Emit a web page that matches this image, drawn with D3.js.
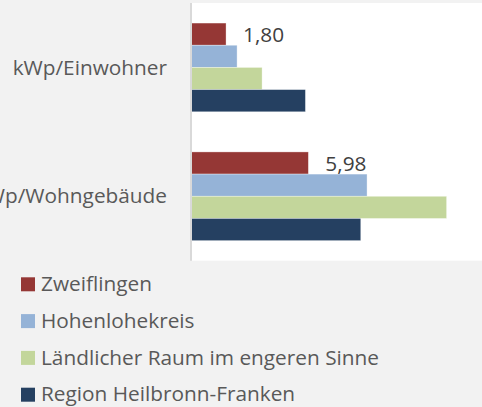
<!DOCTYPE html>
<html>
<head>
<meta charset="utf-8">
<script src="https://cdn.jsdelivr.net/npm/d3@7/dist/d3.min.js"></script>
<style>
  html, body { margin: 0; padding: 0; background: #f2f2f2; }
  svg { display: block; font-family: "Open Sans", sans-serif; }
</style>
</head>
<body>
<svg id="chart" width="482" height="407"></svg>
<script>
// Installed PV capacity, compared across four areas
const categories = ["kWp/Einwohner", "kWp/Wohngebäude"];
const seriesNames = ["Zweiflingen", "Hohenlohekreis", "Ländlicher Raum im engeren Sinne", "Region Heilbronn-Franken"];
const seriesColors = ["#953735", "#95b3d7", "#c3d69b", "#254061"];
const zweiflingen = [1.80, 5.98];
const hohenlohekreis = [2.36, 8.96];
const laendlicherRaum = [3.63, 13.00];
const heilbronnFranken = [5.83, 8.64];
const seriesValues = [zweiflingen, hohenlohekreis, laendlicherRaum, heilbronnFranken];
// only the first series carries value labels
const labelledSeries = [0];

const svg = d3.select("#chart");
const W = 482;
const FONT = 20.8;
const plot = { left: 190.6, top: 3, bottom: 260.7, right: 486 };

// white plot area
svg.append("rect")
  .attr("x", 192).attr("y", plot.top)
  .attr("width", W - 192).attr("height", plot.bottom - plot.top)
  .attr("fill", "#ffffff");

const x = d3.scaleLinear().domain([0, 15]).range([plot.left, plot.right]);
const y0 = d3.scaleBand().domain(categories)
  .range([plot.top, plot.bottom])
  .paddingInner(0.3115).paddingOuter(0.1557);
const y1 = d3.scaleBand().domain(d3.range(seriesNames.length))
  .range([0, y0.bandwidth()]);

const rows = [];
categories.forEach((c, ci) => {
  seriesValues.forEach((vals, si) => rows.push({ cat: c, s: si, v: vals[ci] }));
});

svg.append("g").selectAll("rect").data(rows).join("rect")
  .attr("x", x(0))
  .attr("y", d => y0(d.cat) + y1(d.s))
  .attr("width", d => x(d.v) - x(0))
  .attr("height", y1.bandwidth())
  .attr("fill", d => seriesColors[d.s])
  .attr("stroke", "#ffffff").attr("stroke-opacity", 0.45).attr("stroke-width", 0.75);

// vertical category axis line
svg.append("line")
  .attr("x1", plot.left + 0.4).attr("x2", plot.left + 0.4)
  .attr("y1", plot.top).attr("y2", plot.bottom)
  .attr("stroke", "#d9d9d9").attr("stroke-width", 2);

// category labels
svg.append("g").selectAll("text").data(categories).join("text")
  .attr("x", 167)
  .attr("y", d => y0(d) + y0.bandwidth() / 2 + 7.2)
  .attr("text-anchor", "end")
  .attr("font-size", FONT)
  .attr("fill", "#595959")
  .text(d => d);

// value labels
const fmt = v => d3.format(".2f")(v).replace(".", ",");
const labelRows = rows.filter(d => labelledSeries.includes(d.s));
svg.append("g").selectAll("text").data(labelRows).join("text")
  .attr("x", d => x(d.v) + 17)
  .attr("y", d => y0(d.cat) + y1(d.s) + y1.bandwidth() / 2 + 7.6)
  .attr("font-size", FONT)
  .attr("fill", "#404040")
  .text(d => fmt(d.v));

// legend
const legend = svg.append("g").selectAll("g").data(seriesNames).join("g")
  .attr("transform", (d, i) => `translate(21, ${277.3 + i * 36.8})`);
legend.append("rect")
  .attr("width", 14).attr("height", 14)
  .attr("fill", (d, i) => seriesColors[i]);
legend.append("text")
  .attr("x", 20).attr("y", 13.6)
  .attr("font-size", FONT)
  .attr("fill", "#595959")
  .text(d => d);
</script>
</body>
</html>
